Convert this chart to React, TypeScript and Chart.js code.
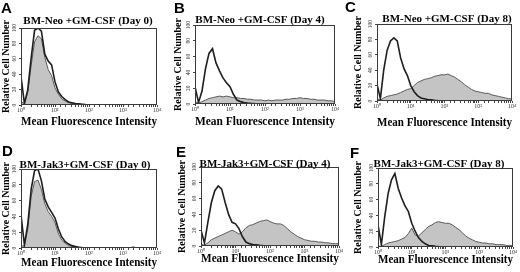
import React, { useEffect, useRef } from "react";
import { Chart, registerables } from "chart.js";

Chart.register(...registerables);

// Histogram channel positions (log-spaced bins, 10^0 … 10^4)
const BINS = [
  1, 1.26, 1.58, 2, 2.51, 3.16, 3.98, 5.01, 6.31, 7.94,
  10, 12.6, 15.8, 20, 25.1, 31.6, 39.8, 50.1, 63.1, 79.4,
  100, 126, 158, 200, 251, 316, 398, 501, 631, 794,
  1000, 1259, 1585, 1995, 2512, 3162, 3981, 5012, 6310, 7943, 10000,
];

// Panel A: BM-Neo +GM-CSF (Day 0)
const neoDay0Open = [37, 2, 20, 62, 97, 100, 96, 66, 57, 52, 30, 17, 11, 7, 4, 3, 2, 1.5, 1, 0.6, 0.3, 0, 0, 0, 0, 0, 0, 0, 0, 0, 0, 0, 0, 0, 0, 0, 0, 0, 0, 0, 0];
const neoDay0Filled = [4, 2, 16, 52, 82, 90, 86, 62, 46, 38, 22, 14, 8, 5, 3, 2, 1.5, 1, 0.6, 0.3, 0.2, 0, 0, 0, 0, 0, 0, 0, 0, 0, 0, 0, 0, 0, 0, 0, 0, 0, 0, 0, 0];
// Panel B: BM-Neo +GM-CSF (Day 4)
const neoDay4Open = [22, 2, 16, 45, 64, 70, 52, 42, 33, 27, 22, 12, 5, 3, 2, 1.2, 0.8, 0.5, 0.3, 0, 0, 0, 0, 0, 0, 0, 0, 0, 0, 0, 0, 0, 0, 0, 0, 0, 0, 0, 0, 0, 0];
const neoDay4Filled = [3, 1, 3, 5, 7, 8, 9, 10, 9, 10, 9, 8, 8, 7, 7, 6, 6, 5, 5, 5, 4, 5, 4, 5, 5, 5, 6, 6, 7, 7, 8, 7, 7, 6, 6, 5, 5, 5, 4, 4, 3];
// Panel C: BM-Neo +GM-CSF (Day 8)
const neoDay8Open = [22, 3, 40, 66, 78, 82, 78, 56, 42, 33, 20, 12, 7, 4, 3, 2, 1.5, 1, 0.6, 0.4, 0.2, 0, 0, 0, 0, 0, 0, 0, 0, 0, 0, 0, 0, 0, 0, 0, 0, 0, 0, 0, 0];
const neoDay8Filled = [3, 1, 4, 6, 7, 8, 9, 11, 13, 15, 16, 20, 24, 26, 28, 29, 30, 32, 33, 34, 34, 35, 33, 31, 28, 25, 21, 18, 15, 13, 12, 11, 10, 10, 8, 7, 6, 5, 4, 3, 3];
// Panel D: BM-Jak3+GM-CSF (Day 0)
const jakDay0Open = [42, 4, 30, 75, 98, 100, 85, 62, 52, 45, 38, 24, 14, 8, 5, 3, 2, 1, 0.6, 0.4, 0.2, 0, 0, 0, 0, 0, 0, 0, 0, 0, 0, 0, 0, 1, 0, 0, 0, 0, 0, 0, 0];
const jakDay0Filled = [2, 3, 24, 66, 84, 86, 74, 56, 46, 40, 32, 18, 10, 6, 3, 2, 1.5, 1, 0.5, 0.3, 0.2, 0, 0, 0, 0, 0, 0, 0, 0, 0, 0, 0, 0, 0, 0, 0, 0, 0, 0, 0, 0];
// Panel E: BM-Jak3+GM-CSF (Day 4)
const jakDay4Open = [20, 4, 30, 55, 70, 76, 72, 55, 40, 30, 28, 22, 12, 5, 3, 2, 1.5, 1, 0.6, 0.3, 0.2, 0, 0, 0, 0, 0, 0, 0, 0, 0, 0, 0, 0, 0, 0, 0, 0, 0, 0, 0, 0];
const jakDay4Filled = [2, 1, 4, 8, 10, 12, 14, 16, 18, 20, 18, 15, 18, 23, 26, 27, 29, 31, 32, 33, 31, 29, 28, 28, 26, 22, 18, 15, 12, 10, 8, 7, 6, 6, 5, 5, 4, 4, 3, 3, 3];
// Panel F: BM-Jak3+GM-CSF (Day 8)
const jakDay8Open = [28, 3, 38, 68, 85, 93, 74, 62, 52, 45, 30, 20, 12, 7, 4, 2, 1.5, 1, 0.6, 0.3, 0.2, 0, 0, 0, 0, 0, 0, 0, 0, 0, 0, 0, 0, 0, 0, 0, 0, 0, 0, 0, 0];
const jakDay8Filled = [1, 1, 3, 5, 6, 7, 8, 10, 12, 17, 24, 15, 14, 18, 22, 26, 28, 31, 32, 31, 30, 30, 28, 25, 22, 18, 14, 11, 9, 7, 6, 5, 5, 4, 4, 3, 3, 3, 2, 2, 2];

const LETTERS = ["A", "B", "C", "D", "E", "F"];
const TITLES = [
  "BM-Neo +GM-CSF (Day 0)",
  "BM-Neo +GM-CSF (Day 4)",
  "BM-Neo +GM-CSF (Day 8)",
  "BM-Jak3+GM-CSF (Day 0)",
  "BM-Jak3+GM-CSF (Day 4)",
  "BM-Jak3+GM-CSF (Day 8)",
];
const OPEN_SERIES = [neoDay0Open, neoDay4Open, neoDay8Open, jakDay0Open, jakDay4Open, jakDay8Open];
const FILLED_SERIES = [neoDay0Filled, neoDay4Filled, neoDay8Filled, jakDay0Filled, jakDay4Filled, jakDay8Filled];
const Y_TICKS = [0, 20, 40, 60, 80, 100];
const X_AXIS_TITLE = "Mean Fluorescence Intensity";
const Y_AXIS_TITLE = "Relative Cell Number";

// Layout of each panel (pixels)
type Layout = {
  x: number; y: number; w: number; h: number;
  L: number; T: number; R: number; B: number;
  lx: number; ly: number; tx: number; ty: number;
  yPad: number; xPad: number;
};
const LAYOUTS: Layout[] = [
  { x: 0, y: 0, w: 172, h: 136, L: 21, T: 28, R: 157, B: 105, lx: 1, ly: 13, tx: 88, ty: 24, yPad: 0, xPad: 7 },
  { x: 172, y: 0, w: 173, h: 136, L: 23, T: 25, R: 163, B: 104, lx: 2, ly: 13, tx: 88, ty: 23, yPad: 0, xPad: 7 },
  { x: 345, y: 0, w: 175, h: 136, L: 32, T: 24, R: 167, B: 101, lx: 0, ly: 12, tx: 102, ty: 22, yPad: 7, xPad: 6 },
  { x: 0, y: 136, w: 172, h: 136, L: 21, T: 33, R: 157, B: 112, lx: 2, ly: 20, tx: 85, ty: 32, yPad: 0, xPad: 2 },
  { x: 172, y: 136, w: 173, h: 136, L: 29, T: 31, R: 167, B: 110, lx: 4, ly: 21, tx: 93, ty: 31, yPad: 4, xPad: 6 },
  { x: 345, y: 136, w: 175, h: 136, L: 33, T: 32, R: 168, B: 111, lx: 5, ly: 22, tx: 94, ty: 31, yPad: 7, xPad: 5 },
];

const SERIF = '"Liberation Serif", "Times New Roman", serif';
const SUP = ["\u2070", "\u00B9", "\u00B2", "\u00B3", "\u2074"];

const panelDecor = {
  id: "panelDecor",
  afterDraw(chart: any, _args: any, opts: any) {
    const { ctx, chartArea } = chart;
    ctx.save();
    ctx.strokeStyle = "#3a3a3a";
    ctx.lineWidth = 1;
    ctx.strokeRect(
      Math.round(chartArea.left) + 0.5,
      Math.round(chartArea.top) + 0.5,
      Math.round(chartArea.right - chartArea.left) - 1,
      Math.round(chartArea.bottom - chartArea.top) - 1
    );
    ctx.fillStyle = "#000";
    ctx.textBaseline = "alphabetic";
    ctx.textAlign = "left";
    ctx.font = 'bold 15px "Liberation Sans", Arial, sans-serif';
    ctx.fillText(opts.letter, opts.lx, opts.ly);
    ctx.textAlign = "center";
    ctx.font = "bold 11px " + SERIF;
    ctx.fillText(opts.title, opts.tx, opts.ty);
    ctx.restore();
  },
};

function Panel({ index }: { index: number }) {
  const ref = useRef<HTMLCanvasElement | null>(null);
  const lay = LAYOUTS[index];
  useEffect(() => {
    if (!ref.current) return;
    const chart = new Chart(ref.current, {
      type: "line",
      data: {
        datasets: [
          {
            data: BINS.map((x, i) => ({ x, y: OPEN_SERIES[index][i] })),
            borderColor: "#1e1e1e",
            borderWidth: 1.6,
            pointRadius: 0,
            fill: false,
            tension: 0,
            order: 0,
          },
          {
            data: BINS.map((x, i) => ({ x, y: FILLED_SERIES[index][i] })),
            borderColor: "#5a5a5a",
            borderWidth: 1,
            backgroundColor: "#c4c4c4",
            pointRadius: 0,
            fill: "origin",
            tension: 0,
            order: 1,
          },
        ],
      },
      options: {
        animation: false,
        responsive: false,
        devicePixelRatio: 1,
        events: [],
        layout: { padding: { left: 0, top: lay.T, right: lay.w - lay.R, bottom: 0 } },
        plugins: {
          legend: { display: false },
          tooltip: { enabled: false },
          title: { display: false },
          panelDecor: {
            letter: LETTERS[index],
            title: TITLES[index],
            lx: lay.lx, ly: lay.ly, tx: lay.tx, ty: lay.ty,
          },
        } as any,
        scales: {
          x: {
            type: "logarithmic",
            min: 1,
            max: 10000,
            afterFit: (s: any) => { s.height = lay.h - lay.B; },
            border: { display: false },
            grid: { drawOnChartArea: false, drawTicks: true, tickLength: 2, color: "#444" },
            ticks: {
              autoSkip: false,
              maxRotation: 0,
              minRotation: 0,
              padding: 0,
              color: "#333",
              font: { family: SERIF, size: 6 },
              callback: (v: any) => {
                const l = Math.log10(Number(v));
                const r = Math.round(l);
                return Math.abs(l - r) < 1e-6 ? "10" + SUP[r] : "";
              },
            },
            title: {
              display: true,
              text: X_AXIS_TITLE,
              color: "#000",
              font: { family: SERIF, size: 12, weight: "bold" },
              padding: { top: 0, bottom: lay.xPad },
            },
          },
          y: {
            type: "linear",
            min: 0,
            max: 100,
            afterFit: (s: any) => { s.width = lay.L; },
            afterBuildTicks: (s: any) => { s.ticks = Y_TICKS.map((v) => ({ value: v })); },
            border: { display: false },
            grid: { drawOnChartArea: false, drawTicks: true, tickLength: 2, color: "#444" },
            ticks: {
              minRotation: 90,
              maxRotation: 90,
              crossAlign: "center",
              padding: 0,
              color: "#333",
              font: { family: SERIF, size: 5.5 },
            },
            title: {
              display: true,
              text: Y_AXIS_TITLE,
              color: "#000",
              font: { family: SERIF, size: 10, weight: "bold" },
              padding: { top: lay.yPad, bottom: 0 },
            },
          },
        },
      } as any,
      plugins: [panelDecor as any],
    });
    return () => chart.destroy();
  }, [index]);
  return (
    <canvas
      ref={ref}
      width={lay.w}
      height={lay.h}
      style={{ position: "absolute", left: lay.x, top: lay.y, width: lay.w, height: lay.h }}
    />
  );
}

export default function App() {
  return (
    <div style={{ position: "fixed", left: 0, top: 0, width: 520, height: 272, background: "#fff", overflow: "hidden" }}>
      {LAYOUTS.map((_, i) => (
        <Panel key={i} index={i} />
      ))}
    </div>
  );
}
